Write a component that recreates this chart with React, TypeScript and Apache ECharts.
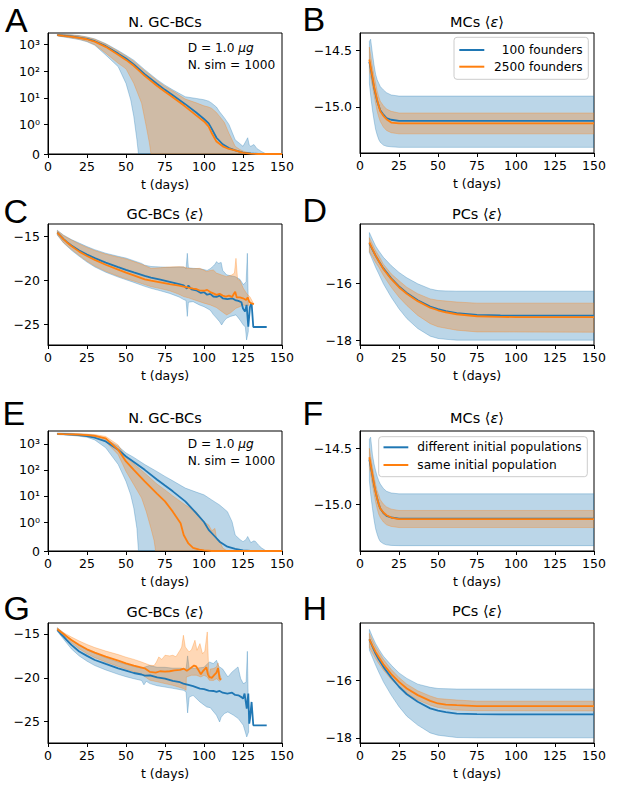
import React, { useEffect, useRef } from "react";
import * as echarts from "echarts";

type P = [number, number][];

const BLUE = "#1f77b4";
const ORANGE = "#ff7f0e";
const BLUE_FILL = "rgba(31,119,180,0.3)";
const ORANGE_FILL = "rgba(255,127,14,0.3)";

// ---------- tick values / labels ----------
const xTickStep = 25;
const symlogTicks = [0, 1, 10, 100, 1000];
const symlogLabels = ["0", "10⁰", "10¹", "10²", "10³"];
const mcTicks = [-15.0, -14.5];
const mcLabels = ["−15.0", "−14.5"];
const gcTicks = [-25, -20, -15];
const gcLabels = ["−25", "−20", "−15"];
const pcTicks = [-18, -16];
const pcLabels = ["−18", "−16"];

// ---------- Panel A : N. GC-BCs (100 vs 2500 founders) ----------
const A_blueMean: P = [[6,2300],[10,2200],[15,2050],[20,1850],[25,1650],[30,1350],[37,880],[45,460],[50,300],[55,180],[62,78],[70,33],[75,20],[80,12.5],[88,5.8],[95,2.8],[100,1.6],[103,1.1],[105,0.85],[108,0.55],[112,0.33],[116,0.2],[120,0.12],[125,0.05],[130,0.02],[135,0],[150,0]];
const A_orangeMean: P = [[6,2300],[10,2150],[15,2000],[20,1800],[25,1600],[30,1300],[37,830],[45,420],[50,268],[55,160],[62,67],[70,28],[75,17],[80,10.5],[88,4.7],[95,2.2],[100,1.3],[103,0.93],[105,0.7],[108,0.42],[112,0.26],[116,0.17],[120,0.12],[125,0.04],[130,0.01],[135,0],[150,0]];
const A_blueHi: P = [[6,2500],[10,2450],[15,2350],[20,2200],[25,1950],[30,1650],[37,1100],[45,600],[50,400],[55,260],[62,115],[70,48],[75,30],[80,20],[88,11],[95,9.5],[100,8.5],[103,7.5],[105,6.3],[108,4.5],[110,3],[113,1.8],[116,1.0],[120,0.48],[123,0.35],[125,0.26],[127,0.45],[128,0.55],[129,0.3],[130,0.26],[132,0.32],[134,0.18],[137,0.08],[140,0],[150,0]];
const A_blueLo: P = [[6,2150],[10,1950],[15,1750],[20,1550],[25,1290],[30,950],[37,410],[45,148],[50,35],[53,8.5],[55,2],[57,0.48],[58,0],[150,0]];
const A_orangeHi: P = [[6,2450],[10,2400],[15,2300],[20,2150],[25,1900],[30,1600],[37,1050],[45,560],[50,370],[55,235],[62,105],[70,44],[75,27],[80,18],[88,9],[95,6.5],[100,5],[103,4.5],[105,4],[108,2.8],[110,2],[113,1.2],[116,0.7],[120,0.26],[123,0.15],[125,0.1],[128,0.05],[130,0],[150,0]];
const A_orangeLo: P = [[6,2150],[10,2000],[15,1800],[20,1600],[25,1350],[30,1000],[37,480],[45,200],[50,123],[55,35],[60,6.3],[63,0.93],[65,0.37],[66,0],[150,0]];

// ---------- Panel B : MCs <eps> ----------
const B_blueMean: P = [[6,-14.6],[7,-14.67],[8,-14.75],[9,-14.83],[10,-14.89],[11,-14.95],[12,-14.99],[13,-15.03],[15,-15.07],[17,-15.1],[20,-15.115],[25,-15.125],[150,-15.125]];
const B_orangeMean: P = [[6,-14.58],[7,-14.66],[8,-14.735],[9,-14.82],[10,-14.88],[11,-14.94],[12,-14.99],[13,-15.04],[15,-15.08],[17,-15.11],[20,-15.14],[25,-15.147],[150,-15.147]];
const B_blueHi: P = [[6,-14.42],[6.8,-14.4],[8,-14.53],[9,-14.63],[10,-14.71],[11,-14.76],[12,-14.79],[13,-14.82],[15,-14.85],[17,-14.875],[20,-14.895],[25,-14.905],[150,-14.905]];
const B_blueLo: P = [[6,-14.79],[7,-14.92],[8,-15.03],[9,-15.12],[10,-15.2],[11,-15.25],[12,-15.29],[13,-15.315],[15,-15.34],[17,-15.35],[20,-15.355],[25,-15.36],[150,-15.36]];
const B_orangeHi: P = [[6,-14.47],[7,-14.56],[8,-14.65],[9,-14.72],[10,-14.79],[11,-14.86],[12,-14.91],[13,-14.95],[15,-14.99],[17,-15.02],[20,-15.04],[25,-15.055],[150,-15.055]];
const B_orangeLo: P = [[6,-14.68],[7,-14.75],[8,-14.82],[9,-14.9],[10,-14.97],[11,-15.04],[12,-15.09],[13,-15.13],[15,-15.18],[17,-15.21],[20,-15.23],[25,-15.24],[150,-15.24]];

// ---------- Panel C : GC-BCs <eps> ----------
const C_blueMean: P = [[6,-14.62],[8,-14.98],[10,-15.35],[12,-15.66],[15,-16.08],[20,-16.65],[25,-17.1],[30,-17.5],[37,-18.02],[45,-18.52],[50,-18.83],[55,-19.12],[62,-19.52],[66,-19.7],[72,-19.95],[78,-20.2],[84,-20.45],[87,-20.6],[89,-20.95],[90,-20.6],[92,-21.05],[95,-21.15],[98,-21.45],[100,-21.35],[102,-21.65],[104,-21.55],[106,-21.85],[108,-21.9],[110,-21.75],[112,-22.05],[115,-22.15],[118,-22.05],[120,-22.25],[122,-22.35],[124,-22.5],[125,-23.2],[126.3,-23.56],[127.3,-22.8],[128.4,-25.26],[129.5,-23.0],[130.5,-22.6],[131.6,-25.3],[140.2,-25.3]];
const C_orangeMean: P = [[6,-14.62],[8,-15.0],[10,-15.38],[12,-15.7],[15,-16.13],[20,-16.77],[25,-17.26],[30,-17.7],[37,-18.25],[45,-18.8],[50,-19.15],[55,-19.45],[62,-19.9],[66,-20.05],[72,-20.25],[78,-20.45],[84,-20.62],[87,-20.73],[90,-20.85],[93,-20.95],[95,-21.0],[97,-21.15],[100,-21.2],[102,-21.1],[104,-21.35],[106,-21.5],[108,-21.67],[110,-21.55],[112,-21.75],[114,-21.85],[116,-21.75],[118,-21.9],[119,-21.6],[120,-21.3],[121,-21.95],[123,-21.95],[125,-22.05],[127,-22.24],[128,-21.95],[129,-22.45],[130,-22.6],[132,-22.7]];
const C_blueHi: P = [[6,-14.35],[10,-14.9],[15,-15.4],[20,-15.8],[25,-16.2],[30,-16.55],[37,-16.95],[45,-17.3],[50,-17.5],[55,-17.8],[60,-18.1],[62,-18.3],[66,-18.45],[72,-18.5],[78,-18.55],[84,-18.5],[87,-18.5],[88.5,-18.7],[89.3,-16.96],[90,-18.6],[93,-18.66],[97,-18.7],[100,-18.8],[102,-18.9],[104,-18.7],[106,-18.4],[107,-18.2],[108.1,-17.9],[109,-18.1],[111,-18.0],[112,-18.9],[114.5,-19.4],[117,-19.5],[120,-19.6],[123,-19.9],[125.2,-20.5],[127,-20.2],[127.8,-16.96],[128.4,-22.8]];
const C_blueLo: P = [[6,-14.9],[10,-15.8],[15,-16.6],[20,-17.3],[25,-17.95],[30,-18.5],[37,-19.1],[45,-19.65],[50,-19.95],[55,-20.25],[62,-20.7],[66,-20.92],[72,-21.2],[78,-21.5],[84,-21.9],[87,-22.2],[88.5,-22.3],[89.3,-24.1],[90,-22.5],[93,-22.43],[97,-22.8],[100,-23.0],[104,-23.4],[106,-23.9],[108.1,-24.31],[110,-24.7],[111.3,-25.07],[113,-24.6],[114.5,-24.31],[117,-24.1],[120.5,-23.93],[123,-24.5],[125.2,-25.07],[126.5,-25.3],[127.3,-26.77],[128.4,-25.82]];
const C_orangeHi: P = [[6,-14.4],[10,-14.95],[15,-15.45],[20,-15.9],[25,-16.3],[30,-16.65],[37,-17.05],[45,-17.4],[50,-17.6],[55,-17.9],[60,-18.2],[62,-18.35],[66,-18.66],[72,-18.6],[78,-18.5],[84,-18.47],[87,-18.5],[90,-18.66],[93,-18.7],[97.4,-18.66],[101.7,-19.03],[104,-18.9],[106,-18.85],[108,-19.2],[111.3,-19.41],[114.5,-19.6],[117.8,-19.41],[119.5,-19.2],[120.5,-17.53],[121.5,-19.9],[123,-20.0],[125.2,-20.92],[127.3,-21.5],[129.5,-21.9],[131,-22.4],[132,-22.7]];
const C_orangeLo: P = [[6,-14.85],[10,-15.75],[15,-16.5],[20,-17.2],[25,-17.85],[30,-18.4],[37,-19.0],[45,-19.55],[50,-19.85],[55,-20.1],[62,-20.5],[66,-20.73],[72,-20.95],[78,-21.2],[84,-21.6],[87,-21.86],[90,-22.0],[95,-22.3],[100,-22.6],[104,-22.8],[108,-23.1],[111,-23.5],[114.5,-23.93],[117,-23.7],[120.5,-23.18],[123,-23.0],[125.2,-22.8],[127,-22.9],[129.5,-22.8],[131,-22.7],[132,-22.7]];

// ---------- Panel D : PCs <eps> ----------
const D_blueMean: P = [[6,-14.6],[8,-14.82],[10,-15.03],[12,-15.22],[15,-15.48],[20,-15.83],[25,-16.11],[30,-16.34],[37,-16.6],[45,-16.82],[50,-16.91],[55,-16.98],[62,-17.05],[75,-17.11],[90,-17.13],[100,-17.14],[150,-17.14]];
const D_orangeMean: P = [[6,-14.57],[8,-14.8],[10,-15.03],[12,-15.22],[15,-15.5],[20,-15.85],[25,-16.14],[30,-16.37],[37,-16.63],[45,-16.86],[50,-16.95],[55,-17.02],[62,-17.09],[75,-17.16],[90,-17.18],[100,-17.19],[150,-17.19]];
const D_blueHi: P = [[6,-14.22],[8,-14.46],[10,-14.69],[12,-14.86],[15,-15.09],[20,-15.38],[25,-15.62],[30,-15.81],[37,-16.02],[45,-16.2],[50,-16.26],[55,-16.27],[62,-16.28],[150,-16.28]];
const D_blueLo: P = [[6,-14.92],[8,-15.18],[10,-15.44],[12,-15.67],[15,-16.02],[20,-16.49],[25,-16.9],[30,-17.24],[37,-17.59],[45,-17.86],[50,-17.94],[55,-17.97],[62,-18.0],[150,-18.0]];
const D_orangeHi: P = [[6,-14.4],[8,-14.63],[10,-14.86],[12,-15.03],[15,-15.33],[20,-15.67],[25,-15.91],[30,-16.14],[37,-16.37],[45,-16.55],[50,-16.6],[62,-16.66],[75,-16.7],[150,-16.7]];
const D_orangeLo: P = [[6,-14.9],[8,-15.07],[10,-15.27],[12,-15.43],[15,-15.73],[20,-16.14],[25,-16.49],[30,-16.78],[37,-17.13],[45,-17.42],[50,-17.53],[62,-17.65],[75,-17.71],[150,-17.72]];

// ---------- Panel E : N. GC-BCs (different vs same initial population) ----------
const E_blueMean: P = [[6,2400],[10,2350],[15,2250],[20,2150],[25,1950],[30,1700],[37,1230],[45,590],[50,325],[55,200],[62,100],[70,42],[75,25],[80,15],[88,6.2],[95,2.2],[100,1.0],[103,0.73],[107,0.5],[110,0.32],[115,0.15],[120,0.07],[125,0.02],[130,0],[150,0]];
const E_orangeMean: P = [[6,2400],[10,2350],[15,2300],[20,2250],[25,2150],[30,2000],[37,1600],[45,590],[50,210],[55,100],[62,36],[70,12],[75,6.2],[80,2.5],[85,0.96],[87,0.55],[90,0.26],[93,0.11],[97,0.05],[100,0.02],[105,0],[150,0]];
const E_blueHi: P = [[6,2600],[15,2500],[25,2300],[30,2100],[37,1500],[45,800],[50,445],[55,300],[62,160],[70,85],[75,56],[80,38],[88,20],[95,14],[100,11],[105,7],[110,4.5],[115,2.5],[118,1.03],[120,0.55],[123,0.4],[125,0.32],[127,0.4],[128,0.5],[130,0.29],[132,0.35],[133,0.33],[135,0.2],[137,0.1],[140,0],[150,0]];
const E_blueLo: P = [[6,2250],[15,2100],[25,1780],[30,1400],[37,700],[45,160],[50,36],[53,11],[55,3.4],[57,0.78],[58,0],[150,0]];
const E_orangeHi: P = [[6,2500],[15,2450],[25,2350],[30,2250],[37,1900],[45,900],[50,300],[55,170],[62,75],[70,28],[75,17],[80,10],[88,4.5],[95,2.5],[100,1.0],[103,0.9],[105,0.7],[107,0.78],[108,0.45],[110,0.36],[112,0.1],[115,0],[150,0]];
const E_orangeLo: P = [[6,2300],[15,2200],[25,1900],[30,1700],[37,1200],[45,380],[50,87],[55,27],[60,8.3],[63,2.5],[66,0.78],[68,0.36],[69,0],[150,0]];

// ---------- Panel F : MCs <eps> ----------
const F_blueMean: P = [[6,-14.6],[7,-14.67],[8,-14.75],[9,-14.83],[10,-14.89],[11,-14.95],[12,-15.0],[13,-15.04],[15,-15.08],[17,-15.105],[20,-15.12],[25,-15.13],[150,-15.13]];
const F_orangeMean: P = [[6,-14.58],[7,-14.66],[8,-14.74],[9,-14.82],[10,-14.89],[11,-14.95],[12,-15.0],[13,-15.04],[15,-15.075],[17,-15.1],[20,-15.12],[25,-15.135],[150,-15.135]];
const F_blueHi: P = [[6,-14.42],[6.8,-14.4],[8,-14.56],[9,-14.64],[10,-14.7],[11,-14.75],[12,-14.79],[13,-14.82],[15,-14.86],[17,-14.885],[20,-14.9],[25,-14.908],[150,-14.908]];
const F_blueLo: P = [[6,-14.79],[7,-14.93],[8,-15.04],[9,-15.14],[10,-15.22],[11,-15.27],[12,-15.31],[13,-15.335],[15,-15.355],[17,-15.365],[20,-15.37],[25,-15.372],[150,-15.372]];
const F_orangeHi: P = [[6,-14.5],[7,-14.59],[8,-14.67],[9,-14.75],[10,-14.82],[11,-14.88],[12,-14.92],[13,-14.96],[15,-15.0],[17,-15.025],[20,-15.045],[25,-15.057],[150,-15.057]];
const F_orangeLo: P = [[6,-14.67],[7,-14.75],[8,-14.83],[9,-14.91],[10,-14.98],[11,-15.04],[12,-15.09],[13,-15.12],[15,-15.16],[17,-15.185],[20,-15.2],[25,-15.21],[150,-15.21]];

// ---------- Panel G : GC-BCs <eps> ----------
const G_blueMean: P = [[6,-14.54],[8,-14.95],[10,-15.3],[12,-15.7],[15,-16.25],[20,-17.0],[25,-17.5],[30,-17.97],[37,-18.42],[45,-18.92],[50,-19.18],[55,-19.45],[60,-19.62],[62,-19.75],[65.4,-19.71],[70,-19.95],[75,-20.1],[80,-20.35],[84.6,-20.5],[86.8,-20.66],[90,-20.8],[93,-20.95],[97.4,-21.23],[100,-21.3],[103,-21.45],[106,-21.5],[108,-21.61],[110,-21.5],[112,-21.7],[115,-21.8],[118,-21.7],[120,-21.95],[122,-21.99],[124,-22.2],[125,-22.37],[126,-21.8],[126.8,-22.75],[127.4,-23.51],[128.4,-21.8],[129,-25.22],[129.5,-24.65],[130.5,-22.75],[131.6,-25.41],[140.2,-25.41]];
const G_orangeMean: P = [[6,-14.47],[8,-14.75],[10,-15.0],[12,-15.3],[15,-15.68],[20,-16.25],[25,-16.75],[30,-17.13],[37,-17.59],[45,-18.04],[50,-18.35],[55,-18.6],[62,-18.92],[65.4,-19.33],[69,-19.4],[71.8,-19.25],[75,-19.3],[78,-19.25],[81,-19.15],[84.6,-19.1],[87,-18.95],[89,-19.2],[91,-18.95],[93.6,-18.6],[95,-18.7],[96.5,-19.14],[98,-19.6],[99.5,-19.2],[101.5,-18.8],[102.5,-19.6],[103.4,-19.9],[105,-20.0],[106.5,-19.7],[108,-19.4],[109,-18.9],[110,-20.1],[111,-20.2]];
const G_blueHi: P = [[6,-14.3],[10,-14.9],[15,-15.7],[20,-16.3],[25,-16.8],[30,-17.2],[37,-17.7],[45,-18.2],[50,-18.45],[55,-18.7],[60,-18.9],[65,-18.6],[70,-18.8],[75,-18.8],[80,-18.9],[85,-18.9],[88.5,-19.0],[89.5,-17.5],[90.5,-18.9],[95,-18.9],[100,-18.8],[103.4,-18.19],[106,-18.38],[108,-18.0],[109.5,-18.7],[112,-19.0],[115.3,-19.9],[118,-19.33],[121.8,-18.76],[123.5,-20.09],[125.2,-20.66],[127,-20.5],[127.8,-16.98],[128.6,-25.0]];
const G_blueLo: P = [[6,-14.7],[10,-15.6],[15,-16.7],[20,-17.5],[25,-18.1],[30,-18.6],[37,-19.1],[45,-19.6],[50,-19.87],[55,-20.1],[60,-20.3],[61.5,-20.8],[63,-20.4],[65.4,-20.66],[70,-20.9],[75,-21.05],[80,-21.2],[86.8,-21.42],[88.5,-21.6],[89.5,-24.0],[90.5,-22.2],[93,-22.0],[97.4,-22.75],[101.7,-23.32],[104,-23.4],[108,-24.27],[110,-25.03],[111,-24.5],[113,-24.08],[115.3,-23.89],[119,-24.27],[122,-24.65],[125.2,-25.41],[127.4,-26.74],[128.6,-26.17]];
const G_orangeHi: P = [[6,-14.3],[10,-14.85],[15,-15.35],[20,-15.8],[25,-16.2],[30,-16.55],[37,-16.95],[45,-17.35],[50,-17.65],[55,-17.9],[60,-18.2],[65.4,-18.57],[68,-18.6],[69.5,-18.2],[71,-17.62],[73,-17.9],[75,-17.43],[78,-17.5],[80,-17.43],[82,-17.6],[84.6,-16.86],[85.7,-16.5],[86.8,-15.15],[88,-16.48],[90.4,-17.05],[92,-16.8],[94.2,-15.72],[95.5,-16.86],[97.4,-16.1],[99,-17.24],[100.5,-17.0],[102.1,-14.77],[103.2,-20.1],[104,-19.0],[106,-18.95],[108,-18.76],[109,-18.3],[110,-19.5],[111,-20.1]];
const G_orangeLo: P = [[6,-14.6],[10,-15.3],[15,-16.0],[20,-16.7],[25,-17.25],[30,-17.7],[37,-18.2],[45,-18.7],[50,-19.0],[55,-19.3],[60,-19.6],[65.4,-20.28],[70,-20.45],[75,-20.66],[80,-20.85],[84.6,-21.1],[86.8,-21.23],[88.5,-21.42],[88.7,-19.9],[92,-19.71],[95,-19.7],[98,-19.9],[100,-19.71],[102,-19.9],[103.4,-20.28],[106,-20.3],[108,-20.1],[110,-20.4],[111,-20.2]];

// ---------- Panel H : PCs <eps> ----------
const H_blueMean: P = [[6,-14.59],[8,-14.84],[10,-15.08],[12,-15.28],[15,-15.54],[20,-15.91],[25,-16.23],[30,-16.49],[37,-16.75],[45,-16.98],[50,-17.06],[55,-17.11],[62,-17.16],[75,-17.18],[90,-17.19],[150,-17.19]];
const H_orangeMean: P = [[6,-14.59],[8,-14.81],[10,-15.02],[12,-15.2],[15,-15.45],[20,-15.79],[25,-16.06],[30,-16.29],[37,-16.52],[45,-16.72],[50,-16.81],[55,-16.85],[62,-16.87],[75,-16.9],[150,-16.9]];
const H_blueHi: P = [[6,-14.24],[8,-14.5],[10,-14.73],[12,-14.92],[15,-15.17],[20,-15.48],[25,-15.75],[30,-15.94],[37,-16.14],[45,-16.25],[50,-16.29],[62,-16.31],[150,-16.31]];
const H_blueLo: P = [[6,-14.96],[8,-15.22],[10,-15.48],[12,-15.72],[15,-16.06],[20,-16.52],[25,-16.92],[30,-17.25],[37,-17.56],[45,-17.83],[50,-17.91],[62,-17.99],[75,-18.0],[150,-18.0]];
const H_orangeHi: P = [[6,-14.38],[8,-14.62],[10,-14.84],[12,-15.02],[15,-15.28],[20,-15.63],[25,-15.91],[30,-16.14],[37,-16.37],[45,-16.55],[50,-16.64],[62,-16.69],[75,-16.73],[150,-16.73]];
const H_orangeLo: P = [[6,-14.87],[8,-15.06],[10,-15.25],[12,-15.42],[15,-15.65],[20,-15.98],[25,-16.23],[30,-16.46],[37,-16.69],[45,-16.87],[50,-16.95],[62,-17.04],[75,-17.06],[150,-17.07]];

// ---------- helpers ----------
const LIN = 1 / (1 - 1 / 10); // matplotlib symlog (linthresh=1, linscale=1)
const symlog = (v: number) => (v <= 1 ? v * LIN : LIN + Math.log10(v));
const ident = (v: number) => v;

const FONT = "DejaVu Sans";
const TICK_FS = 12.5;

function bandSeries(i: number, hi: P, lo: P, color: string, f: (v: number) => number) {
  const pts = [...hi, ...lo.slice().reverse()].map(([t, v]) => [t, f(v)]);
  return {
    type: "custom",
    xAxisIndex: i,
    yAxisIndex: i,
    silent: true,
    clip: true,
    z: 1,
    data: [pts[0]],
    renderItem: (_p: any, api: any) => ({
      type: "polygon",
      shape: { points: pts.map((p) => api.coord(p)) },
      style: { fill: color, stroke: color, lineWidth: 1 },
    }),
  };
}

function lineSeries(i: number, data: P, color: string, f: (v: number) => number) {
  return {
    type: "line",
    xAxisIndex: i,
    yAxisIndex: i,
    data: data.map(([t, v]) => [t, f(v)]),
    showSymbol: false,
    symbol: "none",
    silent: true,
    clip: true,
    z: 3,
    lineStyle: { color, width: 1.8 },
    itemStyle: { color },
  };
}

const black = { color: "#000", width: 1 };

function xAxis(i: number) {
  return {
    type: "value",
    gridIndex: i,
    min: 0,
    max: 150,
    interval: xTickStep,
    axisLine: { show: true, onZero: false, lineStyle: black },
    axisTick: { show: true, inside: false, length: 4, lineStyle: black },
    axisLabel: { color: "#000", fontSize: TICK_FS, fontFamily: FONT, margin: 6, showMinLabel: true, showMaxLabel: true },
    splitLine: { show: false },
    name: "t (days)",
    nameLocation: "middle",
    nameGap: 24,
    nameTextStyle: { color: "#000", fontSize: 12.5, fontFamily: FONT },
  };
}

function yAxis(i: number, min: number, max: number, ticks: number[], labels: string[], f: (v: number) => number) {
  const vals = ticks.map(f);
  return {
    type: "value",
    gridIndex: i,
    min,
    max,
    axisLine: { show: true, onZero: false, lineStyle: black },
    axisTick: { show: true, inside: false, length: 4, lineStyle: black, customValues: vals },
    axisLabel: {
      color: "#000",
      fontSize: TICK_FS,
      fontFamily: FONT,
      margin: 8,
      customValues: vals,
      formatter: (v: number) => {
        const k = vals.findIndex((t) => Math.abs(t - v) < 1e-6);
        return k >= 0 ? labels[k] : "";
      },
    },
    splitLine: { show: false },
  };
}

const panels = [
  { g: { left: 48, top: 33, width: 234, height: 121 }, y: [0, 4.55], ticks: symlogTicks, labels: symlogLabels, f: symlog,
    bH: A_blueHi, bL: A_blueLo, oH: A_orangeHi, oL: A_orangeLo, bM: A_blueMean, oM: A_orangeMean },
  { g: { left: 360, top: 33, width: 234, height: 120 }, y: [-15.41, -14.345], ticks: mcTicks, labels: mcLabels, f: ident,
    bH: B_blueHi, bL: B_blueLo, oH: B_orangeHi, oL: B_orangeLo, bM: B_blueMean, oM: B_orangeMean },
  { g: { left: 48, top: 224, width: 234, height: 121 }, y: [-27.34, -13.64], ticks: gcTicks, labels: gcLabels, f: ident,
    bH: C_blueHi, bL: C_blueLo, oH: C_orangeHi, oL: C_orangeLo, bM: C_blueMean, oM: C_orangeMean },
  { g: { left: 360, top: 224, width: 234, height: 121 }, y: [-18.17, -13.92], ticks: pcTicks, labels: pcLabels, f: ident,
    bH: D_blueHi, bL: D_blueLo, oH: D_orangeHi, oL: D_orangeLo, bM: D_blueMean, oM: D_orangeMean },
  { g: { left: 48, top: 431, width: 234, height: 120 }, y: [0, 4.6], ticks: symlogTicks, labels: symlogLabels, f: symlog,
    bH: E_blueHi, bL: E_blueLo, oH: E_orangeHi, oL: E_orangeLo, bM: E_blueMean, oM: E_orangeMean },
  { g: { left: 360, top: 431, width: 234, height: 120 }, y: [-15.42, -14.345], ticks: mcTicks, labels: mcLabels, f: ident,
    bH: F_blueHi, bL: F_blueLo, oH: F_orangeHi, oL: F_orangeLo, bM: F_blueMean, oM: F_orangeMean },
  { g: { left: 48, top: 623, width: 234, height: 120 }, y: [-27.43, -13.75], ticks: gcTicks, labels: gcLabels, f: ident,
    bH: G_blueHi, bL: G_blueLo, oH: G_orangeHi, oL: G_orangeLo, bM: G_blueMean, oM: G_orangeMean },
  { g: { left: 360, top: 623, width: 234, height: 120 }, y: [-18.18, -14.02], ticks: pcTicks, labels: pcLabels, f: ident,
    bH: H_blueHi, bL: H_blueLo, oH: H_orangeHi, oL: H_orangeLo, bM: H_blueMean, oM: H_orangeMean },
];

function txt(text: string, x: number, y: number, size: number, align = "left", extra: any = {}) {
  return {
    type: "text",
    x,
    y,
    z: 100,
    silent: true,
    style: {
      text,
      fill: "#000",
      fontSize: size,
      fontFamily: FONT,
      align,
      textAlign: align,
      verticalAlign: "middle",
      textVerticalAlign: "middle",
      ...extra,
    },
  };
}

const italic = { i: { fontStyle: "italic", fontFamily: FONT } };

function buildGraphics() {
  const g: any[] = [];
  const letters: [string, number, number][] = [
    ["A", 5, 19.5], ["B", 302.5, 19], ["C", 3.5, 210.5], ["D", 302.5, 210],
    ["E", 2.5, 412.5], ["F", 302.5, 413], ["G", 3.5, 607.5], ["H", 302.5, 607.5],
  ];
  letters.forEach(([l, x, y]) => g.push(txt(l, x, y, 34, "left", { fontFamily: "Liberation Sans" })));

  const titles: [string, number, number][] = [
    ["N. GC-BCs", 165, 21.7], ["MCs ⟨{i|ε}⟩", 477, 21.7],
    ["GC-BCs ⟨{i|ε}⟩", 165, 214], ["PCs ⟨{i|ε}⟩", 477, 213.5],
    ["N. GC-BCs", 165, 418.3], ["MCs ⟨{i|ε}⟩", 477, 418],
    ["GC-BCs ⟨{i|ε}⟩", 165, 611.7], ["PCs ⟨{i|ε}⟩", 477, 610.7],
  ];
  titles.forEach(([t, x, y]) => g.push(txt(t, x, y, 14.5, "center", { rich: { i: { ...italic.i, fontSize: 14.5 } } })));

  // annotations
  [48.3, 444.3].forEach((y) => {
    g.push(txt("D = 1.0 {i|μg}", 187.7, y, 12.2, "left", { rich: { i: { ...italic.i, fontSize: 12.2 } } }));
    g.push(txt("N. sim = 1000", 187.7, y + 17, 12.2, "left"));
  });

  // legend B
  g.push({ type: "rect", z: 90, silent: true, shape: { x: 454, y: 37.3, width: 134.3, height: 42, r: 3 },
    style: { fill: "rgba(255,255,255,0.8)", stroke: "#cccccc", lineWidth: 1 } });
  g.push({ type: "line", z: 95, silent: true, shape: { x1: 459.3, y1: 50, x2: 484.3, y2: 50 }, style: { stroke: BLUE, lineWidth: 2 } });
  g.push({ type: "line", z: 95, silent: true, shape: { x1: 459.3, y1: 66.7, x2: 484.3, y2: 66.7 }, style: { stroke: ORANGE, lineWidth: 2 } });
  g.push(txt("100 founders", 582.7, 50, 12.2, "right"));
  g.push(txt("2500 founders", 582.7, 66.7, 12.2, "right"));

  // legend F
  g.push({ type: "rect", z: 90, silent: true, shape: { x: 378.7, y: 436.7, width: 208.6, height: 40, r: 3 },
    style: { fill: "rgba(255,255,255,0.8)", stroke: "#cccccc", lineWidth: 1 } });
  g.push({ type: "line", z: 95, silent: true, shape: { x1: 383.5, y1: 447.3, x2: 408.3, y2: 447.3 }, style: { stroke: BLUE, lineWidth: 2 } });
  g.push({ type: "line", z: 95, silent: true, shape: { x1: 383.5, y1: 465, x2: 408.3, y2: 465 }, style: { stroke: ORANGE, lineWidth: 2 } });
  g.push(txt("different initial populations", 417.3, 447.3, 12.2, "left"));
  g.push(txt("same initial population", 417.3, 465, 12.2, "left"));
  return g;
}

function buildOption() {
  const series: any[] = [];
  panels.forEach((p, i) => {
    series.push(bandSeries(i, p.bH, p.bL, BLUE_FILL, p.f));
    series.push(bandSeries(i, p.oH, p.oL, ORANGE_FILL, p.f));
    series.push(lineSeries(i, p.bM, BLUE, p.f));
    series.push(lineSeries(i, p.oM, ORANGE, p.f));
  });
  return {
    animation: false,
    backgroundColor: "#fff",
    textStyle: { fontFamily: FONT },
    grid: panels.map((p) => ({ ...p.g, show: true, borderColor: "#000", borderWidth: 1, backgroundColor: "transparent" })),
    xAxis: panels.map((_p, i) => xAxis(i)),
    yAxis: panels.map((p, i) => yAxis(i, p.y[0], p.y[1], p.ticks, p.labels, p.f)),
    series,
    graphic: { elements: buildGraphics() },
  };
}

export default function App() {
  const ref = useRef<HTMLDivElement>(null);
  useEffect(() => {
    if (!ref.current) return;
    const chart = echarts.init(ref.current, undefined, { renderer: "svg" });
    chart.setOption(buildOption() as any);
    return () => chart.dispose();
  }, []);
  return (
    <div
      ref={ref}
      style={{ position: "fixed", left: 0, top: 0, width: 617, height: 792, background: "#fff" }}
    />
  );
}
